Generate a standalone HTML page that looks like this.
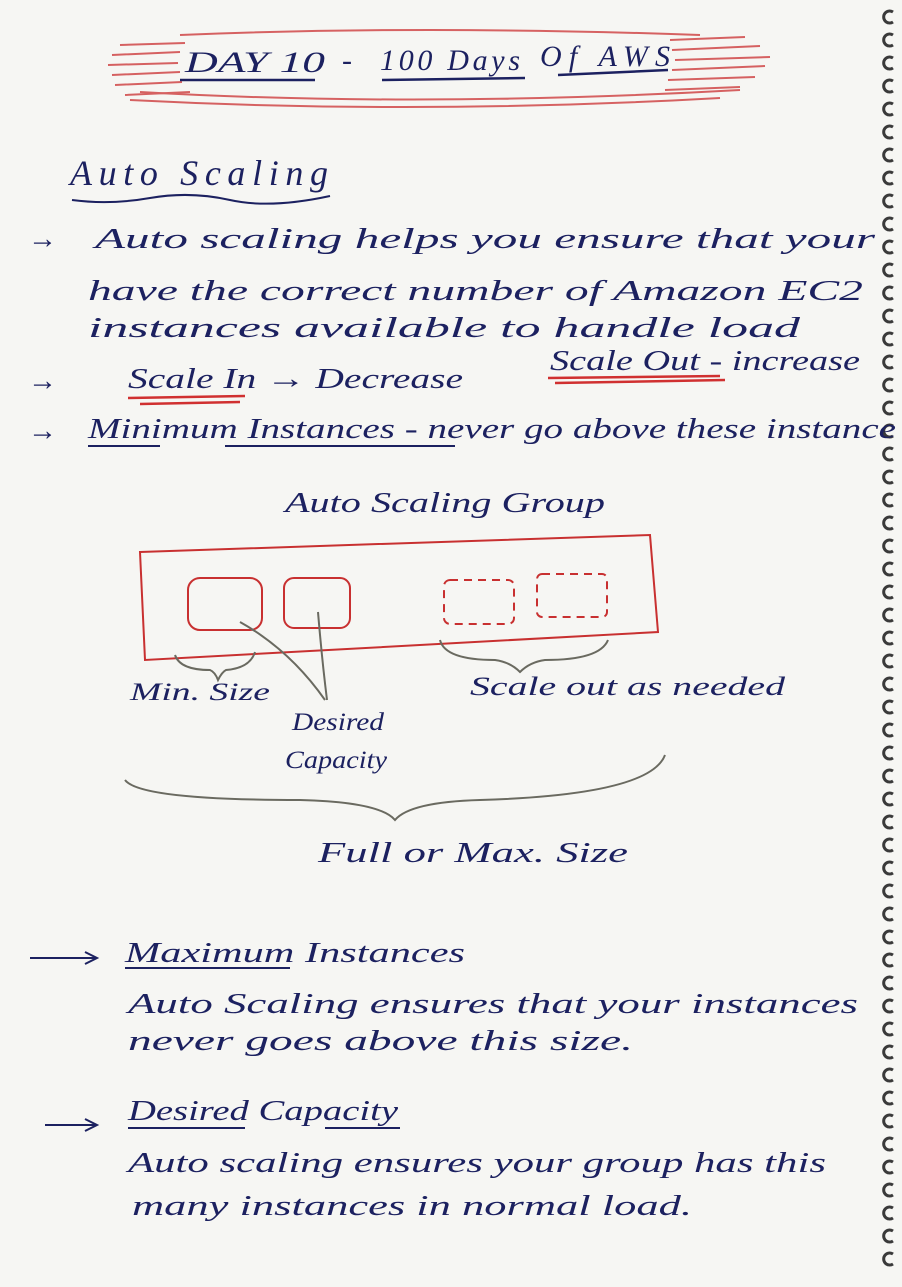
<!DOCTYPE html>
<html><head><meta charset="utf-8"><style>
html,body{margin:0;padding:0;background:#f6f6f3;}
svg{display:block;}
text{font-family:"Liberation Serif",serif;font-style:italic;fill:#1c2160;}
</style></head><body>
<svg width="902" height="1287" viewBox="0 0 902 1287" xmlns="http://www.w3.org/2000/svg">
<rect width="902" height="1287" fill="#f6f6f3"/>
<!-- spiral rings -->
<g stroke="#333" stroke-width="3" fill="none">
<script></script>
</g>
<g id="rings" stroke="#3a3a3a" stroke-width="3" fill="none">
<path d="M893 12 a6 6 0 1 0 0 10"/><path d="M893 35 a6 6 0 1 0 0 10"/><path d="M893 58 a6 6 0 1 0 0 10"/><path d="M893 81 a6 6 0 1 0 0 10"/><path d="M893 104 a6 6 0 1 0 0 10"/><path d="M893 127 a6 6 0 1 0 0 10"/><path d="M893 150 a6 6 0 1 0 0 10"/><path d="M893 173 a6 6 0 1 0 0 10"/><path d="M893 196 a6 6 0 1 0 0 10"/><path d="M893 219 a6 6 0 1 0 0 10"/><path d="M893 242 a6 6 0 1 0 0 10"/><path d="M893 265 a6 6 0 1 0 0 10"/><path d="M893 288 a6 6 0 1 0 0 10"/><path d="M893 311 a6 6 0 1 0 0 10"/><path d="M893 334 a6 6 0 1 0 0 10"/><path d="M893 357 a6 6 0 1 0 0 10"/><path d="M893 380 a6 6 0 1 0 0 10"/><path d="M893 403 a6 6 0 1 0 0 10"/><path d="M893 426 a6 6 0 1 0 0 10"/><path d="M893 449 a6 6 0 1 0 0 10"/><path d="M893 472 a6 6 0 1 0 0 10"/><path d="M893 495 a6 6 0 1 0 0 10"/><path d="M893 518 a6 6 0 1 0 0 10"/><path d="M893 541 a6 6 0 1 0 0 10"/><path d="M893 564 a6 6 0 1 0 0 10"/><path d="M893 587 a6 6 0 1 0 0 10"/><path d="M893 610 a6 6 0 1 0 0 10"/><path d="M893 633 a6 6 0 1 0 0 10"/><path d="M893 656 a6 6 0 1 0 0 10"/><path d="M893 679 a6 6 0 1 0 0 10"/><path d="M893 702 a6 6 0 1 0 0 10"/><path d="M893 725 a6 6 0 1 0 0 10"/><path d="M893 748 a6 6 0 1 0 0 10"/><path d="M893 771 a6 6 0 1 0 0 10"/><path d="M893 794 a6 6 0 1 0 0 10"/><path d="M893 817 a6 6 0 1 0 0 10"/><path d="M893 840 a6 6 0 1 0 0 10"/><path d="M893 863 a6 6 0 1 0 0 10"/><path d="M893 886 a6 6 0 1 0 0 10"/><path d="M893 909 a6 6 0 1 0 0 10"/><path d="M893 932 a6 6 0 1 0 0 10"/><path d="M893 955 a6 6 0 1 0 0 10"/><path d="M893 978 a6 6 0 1 0 0 10"/><path d="M893 1001 a6 6 0 1 0 0 10"/><path d="M893 1024 a6 6 0 1 0 0 10"/><path d="M893 1047 a6 6 0 1 0 0 10"/><path d="M893 1070 a6 6 0 1 0 0 10"/><path d="M893 1093 a6 6 0 1 0 0 10"/><path d="M893 1116 a6 6 0 1 0 0 10"/><path d="M893 1139 a6 6 0 1 0 0 10"/><path d="M893 1162 a6 6 0 1 0 0 10"/><path d="M893 1185 a6 6 0 1 0 0 10"/><path d="M893 1208 a6 6 0 1 0 0 10"/><path d="M893 1231 a6 6 0 1 0 0 10"/><path d="M893 1254 a6 6 0 1 0 0 10"/>
</g>
<!-- title red hatching -->
<g stroke="#d04848" stroke-width="2" fill="none" opacity="0.85">
<path d="M120 45 L185 43 M112 55 L180 52 M108 65 L178 63 M112 75 L180 72 M115 85 L182 82 M125 95 L190 92"/>
<path d="M670 40 L745 37 M672 50 L760 46 M675 60 L770 57 M672 70 L765 66 M668 80 L755 77 M665 90 L740 87"/>
<path d="M140 92 Q420 108 740 90 M130 100 Q420 115 720 98 M180 35 Q420 25 700 35"/>
</g>
<text x="185" y="72" font-size="30" textLength="140" lengthAdjust="spacingAndGlyphs" font-style="normal">DAY 10</text>
<text x="342" y="70" font-size="30" font-style="normal">-</text>
<text x="380" y="70" font-size="30" textLength="140">100 Days</text>
<text x="540" y="66" font-size="30" textLength="130">Of AWS</text>
<g stroke="#1c2160" stroke-width="2.5" fill="none">
<path d="M180 80 L315 80 M382 80 L525 78 M558 75 L668 70"/>
</g>
<text x="70" y="185" font-size="36" textLength="258">Auto Scaling</text>
<path d="M72 200 Q110 205 150 198 T230 200 T330 196" stroke="#1c2160" stroke-width="2" fill="none"/>
<g font-size="29">
<text x="28" y="248">→</text>
<text x="95" y="248" textLength="780" lengthAdjust="spacingAndGlyphs">Auto scaling helps you   ensure  that your</text>
<text x="88" y="300" textLength="775" lengthAdjust="spacingAndGlyphs">have  the  correct  number of  Amazon EC2</text>
<text x="88" y="337" textLength="712" lengthAdjust="spacingAndGlyphs">instances  available  to  handle  load</text>
<text x="28" y="390">→</text>
<text x="128" y="388" textLength="335" lengthAdjust="spacingAndGlyphs">Scale In → Decrease</text>
<text x="550" y="370" textLength="310" lengthAdjust="spacingAndGlyphs">Scale Out - increase</text>
<text x="28" y="440">→</text>
<text x="88" y="438" textLength="808" lengthAdjust="spacingAndGlyphs">Minimum Instances - never go above these instance</text>
</g>
<g stroke="#d03030" stroke-width="2.5" fill="none">
<path d="M128 398 L245 396 M140 404 L240 402 M548 378 L720 376 M555 383 L725 380"/>
</g>
<path d="M88 446 L160 446 M225 446 L455 446" stroke="#1c2160" stroke-width="2"/>
<text x="285" y="512" font-size="29" textLength="320" lengthAdjust="spacingAndGlyphs">Auto Scaling Group</text>
<!-- diagram -->
<g stroke="#c83030" stroke-width="2" fill="none">
<path d="M140 552 L650 535 L658 632 L145 660 Z"/>
<rect x="188" y="578" width="74" height="52" rx="12"/>
<rect x="284" y="578" width="66" height="50" rx="10"/>
<rect x="444" y="580" width="70" height="44" rx="6" stroke-dasharray="8 6"/>
<rect x="537" y="574" width="70" height="43" rx="5" stroke-dasharray="8 6"/>
</g>
<g stroke="#6a6a60" stroke-width="2" fill="none">
<path d="M175 655 Q180 670 210 670 Q215 672 218 680 Q222 672 226 670 Q250 668 255 652"/>
<path d="M440 640 Q445 660 495 660 Q510 662 520 672 Q530 662 545 660 Q600 660 608 640"/>
<path d="M240 622 Q290 650 325 700 M318 612 Q322 660 327 700"/>
<path d="M125 780 Q140 800 300 800 Q380 802 395 820 Q410 802 480 800 Q650 795 665 755"/>
</g>
<text x="130" y="700" font-size="25" textLength="140" lengthAdjust="spacingAndGlyphs">Min. Size</text>
<text x="470" y="695" font-size="26" textLength="315" lengthAdjust="spacingAndGlyphs">Scale out as needed</text>
<text x="292" y="730" font-size="25" textLength="92" lengthAdjust="spacingAndGlyphs">Desired</text>
<text x="285" y="768" font-size="25" textLength="102" lengthAdjust="spacingAndGlyphs">Capacity</text>
<text x="318" y="862" font-size="29" textLength="310" lengthAdjust="spacingAndGlyphs">Full or Max. Size</text>
<g font-size="28">
<path d="M30 958 L95 958 M85 952 L97 958 L85 964" stroke="#1c2160" stroke-width="2" fill="none"/>
<text x="125" y="962" textLength="340" lengthAdjust="spacingAndGlyphs">Maximum Instances</text>
<path d="M125 968 L290 968" stroke="#1c2160" stroke-width="2"/>
<text x="128" y="1013" textLength="730" lengthAdjust="spacingAndGlyphs">Auto Scaling  ensures   that  your  instances</text>
<text x="128" y="1050" textLength="505" lengthAdjust="spacingAndGlyphs">never  goes  above  this  size.</text>
<path d="M45 1125 L95 1125 M85 1119 L97 1125 L85 1131" stroke="#1c2160" stroke-width="2" fill="none"/>
<text x="128" y="1120" textLength="270" lengthAdjust="spacingAndGlyphs">Desired Capacity</text>
<path d="M128 1128 L245 1128 M325 1128 L400 1128" stroke="#1c2160" stroke-width="2"/>
<text x="128" y="1172" textLength="698" lengthAdjust="spacingAndGlyphs">Auto scaling  ensures  your  group  has  this</text>
<text x="132" y="1215" textLength="560" lengthAdjust="spacingAndGlyphs">many  instances  in  normal  load.</text>
</g>
</svg>
</body></html>
